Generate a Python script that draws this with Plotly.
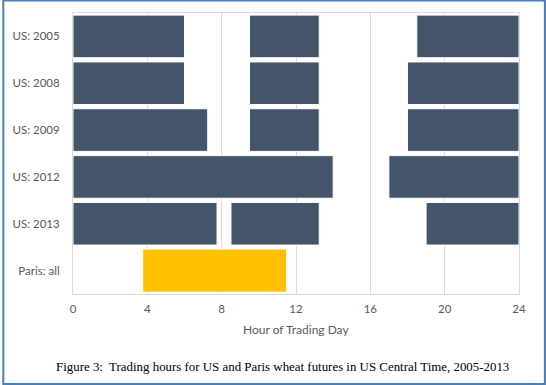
import plotly.graph_objects as go

categories = ["US: 2005", "US: 2008", "US: 2009", "US: 2012", "US: 2013", "Paris: all"]

# trading sessions (start hour, end hour) per category
us_starts = {
    "US: 2005": [0, 9.5, 18.5],
    "US: 2008": [0, 9.5, 18],
    "US: 2009": [0, 9.5, 18],
    "US: 2012": [0, 17],
    "US: 2013": [0, 8.5, 19],
}
us_ends = {
    "US: 2005": [6, 13.25, 24],
    "US: 2008": [6, 13.25, 24],
    "US: 2009": [7.25, 13.25, 24],
    "US: 2012": [14, 24],
    "US: 2013": [7.75, 13.25, 24],
}
paris_start = [3.75]
paris_end = [11.5]

tick_vals = [0, 4, 8, 12, 16, 20, 24]

W, H = 546, 385
ML, MR, MT, MB = 71, 27, 13, 91
PW, PH = W - ML - MR, H - MT - MB

us_y, us_base, us_len = [], [], []
for c in categories[:-1]:
    for s, e in zip(us_starts[c], us_ends[c]):
        us_y.append(c)
        us_base.append(s)
        us_len.append(e - s)

fig = go.Figure()
fig.add_trace(go.Bar(
    y=us_y, x=us_len, base=us_base, orientation="h",
    marker=dict(color="#44546A", line=dict(color="#FFFFFF", width=1)),
    width=0.91, showlegend=False, hoverinfo="skip",
))
fig.add_trace(go.Bar(
    y=["Paris: all"] * len(paris_start),
    x=[e - s for s, e in zip(paris_start, paris_end)],
    base=paris_start, orientation="h",
    marker=dict(color="#FFC000", line=dict(color="#FFFFFF", width=1)),
    width=0.92, showlegend=False, hoverinfo="skip",
))

tick_font = dict(family="Lato", size=11.5, color="#595959")

fig.update_layout(
    width=W, height=H,
    margin=dict(l=ML, r=MR, t=MT, b=MB, pad=0),
    paper_bgcolor="white", plot_bgcolor="white",
    barmode="overlay",
    font=dict(family="Lato", size=12, color="#595959"),
    xaxis=dict(
        range=[0, 24], tickvals=tick_vals, ticktext=[str(v) for v in tick_vals],
        showgrid=True, gridcolor="#D9D9D9", gridwidth=1,
        zeroline=False, showline=True, linecolor="#D9D9D9", mirror=True,
        ticks="outside", ticklen=4, tickcolor="rgba(0,0,0,0)",
        tickfont=tick_font, fixedrange=True,
    ),
    yaxis=dict(
        categoryorder="array", categoryarray=categories,
        autorange="reversed", showgrid=False, zeroline=False,
        showline=True, linecolor="#D9D9D9", mirror=True,
        ticks="outside", ticklen=10, tickcolor="rgba(0,0,0,0)",
        tickfont=tick_font, fixedrange=True,
    ),
    annotations=[
        dict(text="Hour of Trading Day", xref="paper", yref="paper",
             x=0.5, y=(294 - 329) / PH, xanchor="center", yanchor="middle",
             showarrow=False, font=dict(family="Lato", size=12, color="#595959")),
        dict(text="Figure 3:  Trading hours for US and Paris wheat futures in US Central Time, 2005-2013",
             xref="paper", yref="paper",
             x=(281 - ML) / PW, y=(294 - 367) / PH, xanchor="center", yanchor="middle",
             showarrow=False, font=dict(family="Liberation Serif", size=12.9, color="#000000")),
    ],
    shapes=[
        dict(type="rect", xref="paper", yref="paper",
             x0=(-ML + 1) / PW, x1=(PW + MR - 1) / PW,
             y0=(-MB + 1) / PH, y1=(PH + MT - 0.5) / PH,
             line=dict(color="#4A7EBB", width=2), fillcolor="rgba(0,0,0,0)",
             layer="above"),
    ],
)

fig.write_html("out.html", config={"displayModeBar": False},
               post_script="document.body.style.margin='0';document.body.style.overflow='hidden';")
